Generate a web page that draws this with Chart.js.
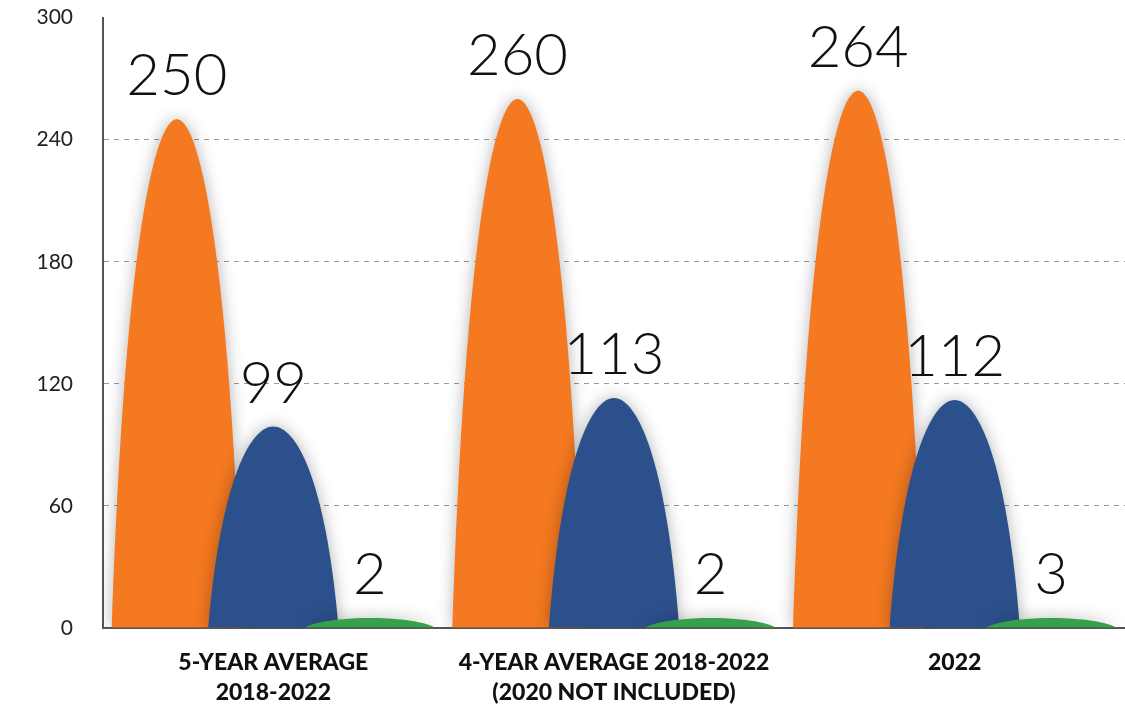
<!DOCTYPE html>
<html>
<head>
<meta charset="utf-8">
<script src="https://cdn.jsdelivr.net/npm/chart.js@4"></script>
<style>
  html, body { margin: 0; padding: 0; background: #fff; overflow: hidden; }
  #wrap { width: 1125px; height: 734px; margin-top: -25px; }
</style>
</head>
<body>
<div id="wrap"><canvas id="humpChart"></canvas></div>
<script>
// chart data
const categories = [['5-YEAR AVERAGE', '2018-2022'], ['4-YEAR AVERAGE 2018-2022', '(2020 NOT INCLUDED)'], '2022'];
const orangeValues = [250, 260, 264];
const blueValues = [99, 113, 112];
const greenValues = [2, 2, 3];
const yTicks = [0, 60, 120, 180, 240, 300];

// draws each bar as a rounded hump instead of a rectangle
const humps = {
  id: 'humps',
  beforeDatasetsDraw(chart) {
    const ctx = chart.ctx;
    const area = chart.chartArea;
    ctx.save();
    ctx.beginPath();
    ctx.rect(area.left, 0, area.right - area.left, area.bottom);
    ctx.clip();
    chart.data.datasets.forEach((ds, i) => {
      chart.getDatasetMeta(i).data.forEach(bar => {
        const w = bar.width * 1.35;
        const left = bar.x - w / 2, right = bar.x + w / 2;
        const top = bar.y, base = bar.base, h = base - top;
        ctx.beginPath();
        ctx.moveTo(left, base);
        ctx.bezierCurveTo(left + w * 0.1, base - h * 0.75, bar.x - w * 0.17, top, bar.x, top);
        ctx.bezierCurveTo(bar.x + w * 0.17, top, right - w * 0.1, base - h * 0.75, right, base);
        ctx.closePath();
        ctx.shadowColor = 'rgba(0,0,0,0.3)';
        ctx.shadowBlur = 16;
        ctx.fillStyle = ds.backgroundColor;
        ctx.fill();
      });
    });
    ctx.restore();
    return false;
  },
  afterDraw(chart) {
    const ctx = chart.ctx;
    ctx.save();
    ctx.font = '300 58px Lato';
    ctx.fillStyle = '#111';
    ctx.textAlign = 'center';
    ctx.textBaseline = 'alphabetic';
    chart.data.datasets.forEach((ds, i) => {
      chart.getDatasetMeta(i).data.forEach((bar, j) => {
        ctx.fillText(String(ds.data[j]), bar.x, bar.y - 24);
      });
    });
    ctx.restore();
  }
};

new Chart(document.getElementById('humpChart'), {
  type: 'bar',
  data: {
    labels: categories,
    datasets: [
      { label: 'Orange', data: orangeValues, backgroundColor: '#F47920' },
      { label: 'Blue', data: blueValues, backgroundColor: '#2C508C' },
      { label: 'Green', data: greenValues, backgroundColor: '#37A04A', minBarLength: 10 }
    ]
  },
  plugins: [humps],
  options: {
    responsive: true,
    maintainAspectRatio: false,
    animation: false,
    categoryPercentage: 0.85,
    barPercentage: 1,
    plugins: { legend: { display: false }, tooltip: { enabled: false } },
    scales: {
      x: {
        z: 1,
        grid: { display: false },
        border: { color: '#555', width: 2 },
        ticks: {
          color: '#111',
          padding: 12,
          maxRotation: 0,
          autoSkip: false,
          font: { family: 'Lato', weight: '900', size: 23, lineHeight: 1.3 }
        },
        afterFit(scale) { scale.height = 81; }
      },
      y: {
        min: 0,
        max: 300,
        afterBuildTicks(scale) { scale.ticks = yTicks.map(v => ({ value: v })); },
        grid: {
          drawTicks: false,
          color: ctx => (ctx.tick.value === 0 || ctx.tick.value === 300) ? 'rgba(0,0,0,0)' : '#999',
          lineWidth: 1
        },
        border: { color: '#555', width: 2, dash: [5, 5] },
        ticks: {
          color: '#222',
          padding: 30,
          font: { family: 'Lato', weight: '400', size: 21 }
        },
        afterFit(scale) { scale.width = 103; }
      }
    }
  }
});
</script>
</body>
</html>
